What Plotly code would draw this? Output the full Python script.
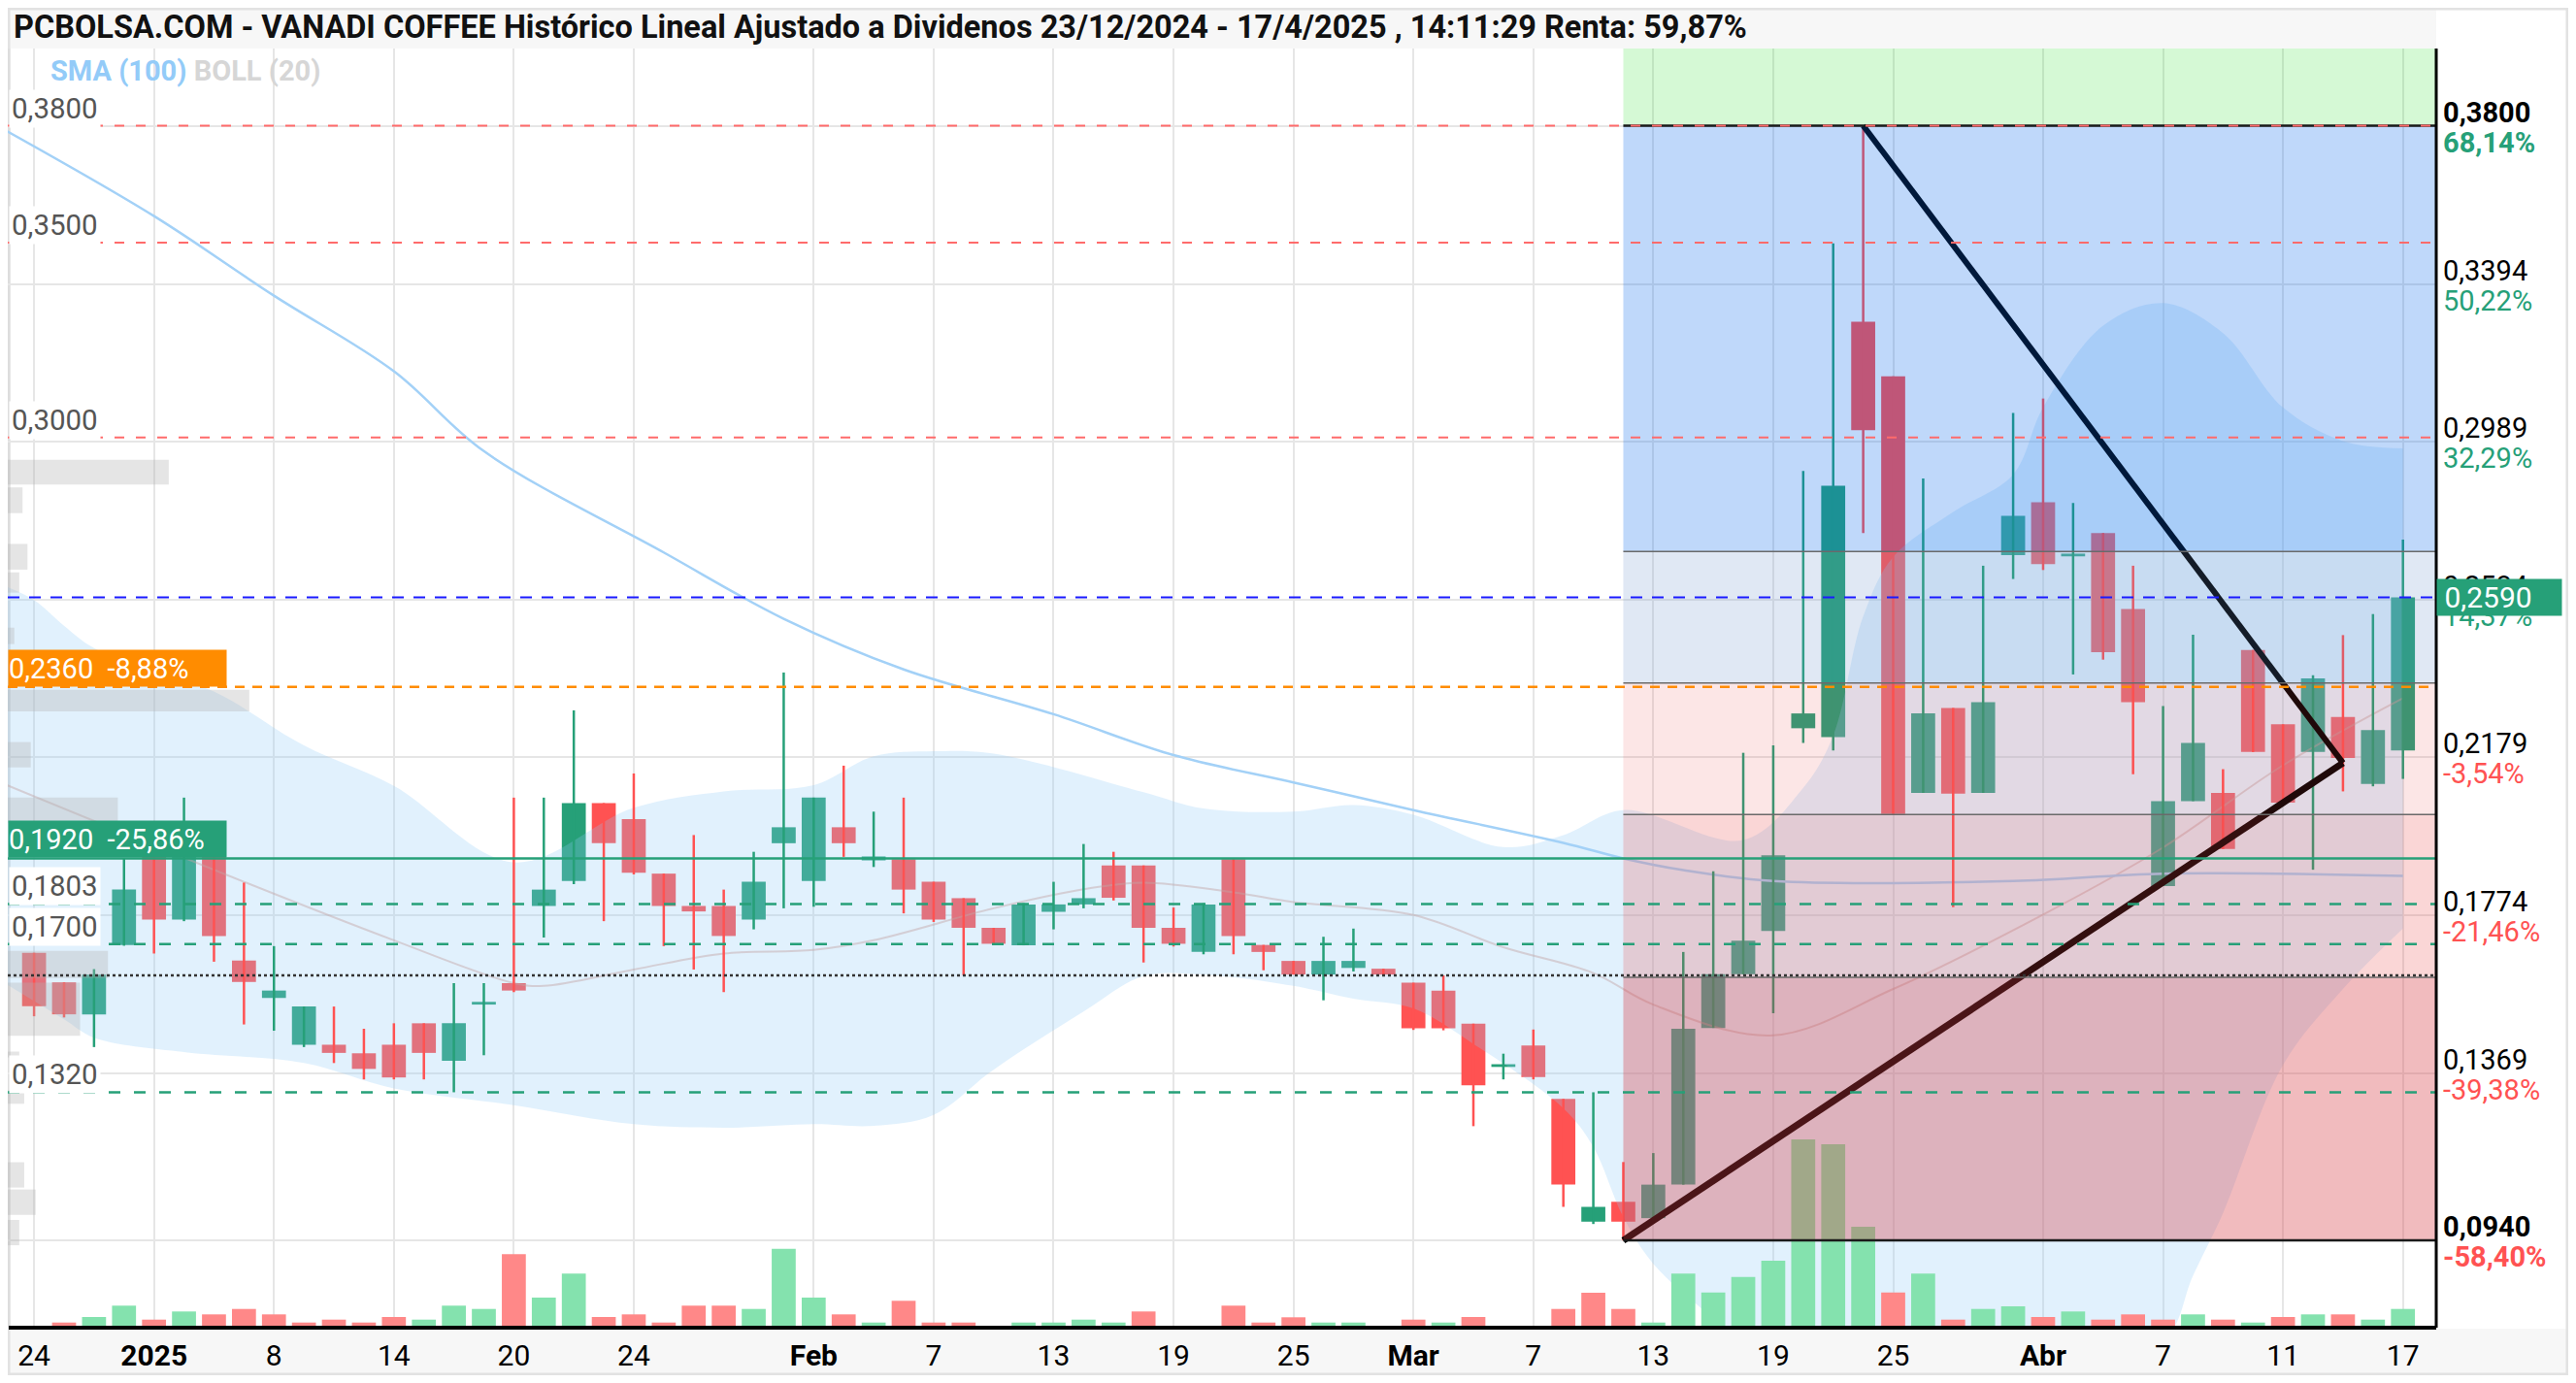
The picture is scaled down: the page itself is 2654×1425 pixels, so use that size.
import plotly.graph_objects as go

# ---------------- DATA ----------------
dates = ["2024-12-24", "2024-12-27", "2024-12-30", "2024-12-31",
         "2025-01-02", "2025-01-03", "2025-01-06", "2025-01-07", "2025-01-08", "2025-01-09", "2025-01-10",
         "2025-01-13", "2025-01-14", "2025-01-15", "2025-01-16", "2025-01-17", "2025-01-20", "2025-01-21",
         "2025-01-22", "2025-01-23", "2025-01-24", "2025-01-27", "2025-01-28", "2025-01-29", "2025-01-30",
         "2025-01-31", "2025-02-03", "2025-02-04", "2025-02-05", "2025-02-06", "2025-02-07", "2025-02-10",
         "2025-02-11", "2025-02-12", "2025-02-13", "2025-02-14", "2025-02-17", "2025-02-18", "2025-02-19",
         "2025-02-20", "2025-02-21", "2025-02-24", "2025-02-25", "2025-02-26", "2025-02-27", "2025-02-28",
         "2025-03-03", "2025-03-04", "2025-03-05", "2025-03-06", "2025-03-07", "2025-03-10", "2025-03-11",
         "2025-03-12", "2025-03-13", "2025-03-14", "2025-03-17", "2025-03-18", "2025-03-19", "2025-03-20",
         "2025-03-21", "2025-03-24", "2025-03-25", "2025-03-26", "2025-03-27", "2025-03-28", "2025-03-31",
         "2025-04-01", "2025-04-02", "2025-04-03", "2025-04-04", "2025-04-07", "2025-04-08", "2025-04-09",
         "2025-04-10", "2025-04-11", "2025-04-14", "2025-04-15", "2025-04-16", "2025-04-17"]

open_ = [0.1678, 0.1602, 0.1520, 0.1698, 0.1925, 0.1763, 0.1925, 0.1658, 0.1562, 0.1442,
         0.1442, 0.1420, 0.1442, 0.1497, 0.1401, 0.1545, 0.1600, 0.1798, 0.1862, 0.2062,
         0.2021, 0.1881, 0.1798, 0.1798, 0.1763, 0.1959, 0.1862, 0.2000, 0.1915, 0.1918,
         0.1860, 0.1818, 0.1742, 0.1697, 0.1783, 0.1802, 0.1902, 0.1902, 0.1742, 0.1680,
         0.1918, 0.1698, 0.1657, 0.1622, 0.1639, 0.1637, 0.1601, 0.1581, 0.1496, 0.1385,
         0.1440, 0.1303, 0.0988, 0.1039, 0.0997, 0.1083, 0.1485, 0.1623, 0.1734, 0.2254,
         0.2231, 0.3297, 0.3157, 0.2088, 0.2306, 0.2088, 0.2698, 0.2834, 0.2695, 0.2755,
         0.2560, 0.1849, 0.2067, 0.2088, 0.2455, 0.2264, 0.2193, 0.2283, 0.2111, 0.2197]
high = [0.1678, 0.1602, 0.1636, 0.1920, 0.1925, 0.2076, 0.1925, 0.1858, 0.1695, 0.1540,
        0.1540, 0.1483, 0.1497, 0.1497, 0.1600, 0.1600, 0.2076, 0.2076, 0.2300, 0.2062,
        0.2138, 0.1881, 0.1980, 0.1840, 0.1937, 0.2397, 0.2076, 0.2158, 0.2040, 0.2076,
        0.1860, 0.1818, 0.1742, 0.1805, 0.1860, 0.1957, 0.1937, 0.1902, 0.1794, 0.1805,
        0.1918, 0.1698, 0.1657, 0.1719, 0.1740, 0.1637, 0.1601, 0.1620, 0.1496, 0.1419,
        0.1481, 0.1303, 0.1320, 0.1141, 0.1164, 0.1680, 0.1887, 0.2191, 0.2210, 0.2914,
        0.3498, 0.3800, 0.3157, 0.2895, 0.2306, 0.2671, 0.3063, 0.3100, 0.2832, 0.2755,
        0.2671, 0.2311, 0.2494, 0.2149, 0.2455, 0.2264, 0.2390, 0.2493, 0.2547, 0.2738]
low = [0.1515, 0.1512, 0.1436, 0.1696, 0.1676, 0.1759, 0.1655, 0.1494, 0.1478, 0.1436,
       0.1395, 0.1353, 0.1353, 0.1353, 0.1320, 0.1415, 0.1577, 0.1717, 0.1854, 0.1759,
       0.1879, 0.1695, 0.1635, 0.1577, 0.1738, 0.1792, 0.1796, 0.1924, 0.1898, 0.1779,
       0.1757, 0.1620, 0.1699, 0.1697, 0.1738, 0.1792, 0.1812, 0.1653, 0.1694, 0.1674,
       0.1674, 0.1633, 0.1622, 0.1556, 0.1630, 0.1622, 0.1480, 0.1479, 0.1233, 0.1353,
       0.1353, 0.1026, 0.0982, 0.0940, 0.0997, 0.1083, 0.1485, 0.1623, 0.1523, 0.2216,
       0.2197, 0.2755, 0.2034, 0.2088, 0.1795, 0.2088, 0.2637, 0.2660, 0.2392, 0.2430,
       0.2136, 0.1849, 0.2067, 0.1944, 0.2193, 0.2063, 0.1891, 0.2092, 0.2105, 0.2124]
close = [0.1541, 0.1520, 0.1622, 0.1840, 0.1763, 0.1925, 0.1721, 0.1603, 0.1581, 0.1540,
         0.1421, 0.1380, 0.1358, 0.1421, 0.1497, 0.1548, 0.1581, 0.1840, 0.2062, 0.1959,
         0.1883, 0.1798, 0.1784, 0.1721, 0.1860, 0.2000, 0.2076, 0.1959, 0.1925, 0.1840,
         0.1763, 0.1742, 0.1701, 0.1802, 0.1802, 0.1818, 0.1819, 0.1742, 0.1701, 0.1802,
         0.1721, 0.1680, 0.1622, 0.1657, 0.1657, 0.1622, 0.1484, 0.1484, 0.1338, 0.1390,
         0.1359, 0.1083, 0.1026, 0.0988, 0.1083, 0.1483, 0.1623, 0.1709, 0.1928, 0.2292,
         0.2876, 0.3019, 0.2034, 0.2292, 0.2086, 0.2321, 0.2799, 0.2675, 0.2700, 0.2449,
         0.2321, 0.2067, 0.2216, 0.1944, 0.2193, 0.2063, 0.2382, 0.2178, 0.2249, 0.2590]

# volume (relative scale)
volume = [0, 5.3, 11, 22.7, 8.3, 16.7, 13.7, 19.3, 13.7, 5.3,
          8.3, 5.3, 11, 8.3, 22.7, 19.3, 75.7, 31, 55.7, 11,
          13.7, 5.3, 22.7, 22.7, 19.3, 81.3, 31, 13.7, 5.3, 27.7,
          5.3, 5.3, 0, 5.3, 5.3, 8.3, 5.3, 16.7, 0, 0,
          22.7, 5.3, 10.7, 5.3, 5.3, 0, 8.3, 5.3, 11, 0,
          0, 19.3, 36, 19.3, 5.3, 55.7, 36.3, 52.3, 69, 194,
          189, 104, 36.3, 55.7, 8.3, 19.3, 22, 11, 16.7, 8.3,
          13.7, 8.3, 13.7, 8.3, 5.3, 11, 13.7, 13.7, 8.3, 19.3]
vol_dir = ("rrggrgrrrr" "rrrgggrggr" "rrrrgggrgr" "rrrggggrrg"
           "rrrggrrgrg" "rrrrgggggg" "ggrgrggrgr" "rrgrgrgrgg")

# Bollinger (20): (position of date, value)
bb_up_pos = [0, 1, 2, 3, 7, 10, 13, 17, 21, 24, 27, 29, 31, 33, 38, 40, 43, 45, 47, 50, 52,
             54, 58, 60, 61, 62, 63, 65, 67, 68, 70, 72, 74, 76, 78, 80]
bb_up = [0.2620, 0.2583, 0.2517, 0.2460, 0.2348, 0.2210, 0.2106, 0.1910, 0.2050, 0.2092, 0.2108,
         0.2182, 0.2195, 0.2189, 0.2090, 0.2048, 0.2040, 0.2057, 0.2032, 0.1949, 0.1980,
         0.2044, 0.1967, 0.2101, 0.2235, 0.2541, 0.2694, 0.2809, 0.2905, 0.3077, 0.3287,
         0.3345, 0.3268, 0.3077, 0.2991, 0.2972]
bb_lo_pos = [0, 2, 3, 6, 10, 13, 17, 21, 24, 27, 29, 31, 33, 36, 38, 40, 43, 45, 47, 49, 52,
             53, 54, 55, 57, 60, 63, 67, 72, 73, 74, 76, 78, 80]
bb_lo = [0.1601, 0.1507, 0.1460, 0.1423, 0.1395, 0.1330, 0.1287, 0.1238, 0.1229, 0.1238, 0.1234,
         0.1262, 0.1378, 0.1527, 0.1618, 0.1622, 0.1593, 0.1560, 0.1535, 0.1444, 0.1279,
         0.1180, 0.1000, 0.0880, 0.0740, 0.0550, 0.0470, 0.0550, 0.0680, 0.0850, 0.1010,
         0.1390, 0.1585, 0.1740]
bb_mid_pos = [0, 8, 13, 17, 18, 21, 24, 27, 29, 33, 36, 38, 41, 43, 47, 50, 53, 55, 59, 63, 68,
              72, 76, 80]
bb_mid = [0.2111, 0.1860, 0.1710, 0.1600, 0.1593, 0.1635, 0.1676, 0.1685, 0.1710, 0.1792, 0.1841,
          0.1858, 0.1833, 0.1808, 0.1775, 0.1692, 0.1626, 0.1545, 0.1466, 0.1585, 0.1776,
          0.1948, 0.2159, 0.2331]
# SMA (100)
sma_pos = [0, 5, 9, 13, 16, 22, 26, 30, 35, 39, 43, 47, 52, 54, 56, 59, 67, 72, 80]
sma = [0.3790, 0.3568, 0.3364, 0.3170, 0.2965, 0.2705, 0.2535, 0.2405, 0.2290, 0.2185, 0.2115,
       0.2044, 0.1960, 0.1920, 0.1890, 0.1862, 0.1862, 0.1881, 0.1875]

# volume-by-price profile (left side)
vp_price = [0.2911, 0.2839, 0.2694, 0.2628, 0.2491, 0.2325, 0.2186, 0.2044, 0.1648, 0.1533,
            0.1417, 0.1308, 0.1108, 0.1038, 0.0960]
vp_volume = [98, 9, 12, 7, 4, 147, 14, 67, 61, 44, 7, 10, 10, 17, 7]
vp_band = [0.0064, 0.0066, 0.0066, 0.0052, 0.0042, 0.0055, 0.0065, 0.0065, 0.0070, 0.0136,
           0.0015, 0.0035, 0.0065, 0.0065, 0.0065]

# Fibonacci / axis levels (right side)
fib_levels = [0.3800, 0.3394, 0.2989, 0.2584, 0.2179, 0.1774, 0.1369, 0.0940]
fib_pct = ["68,14%", "50,22%", "32,29%", "14,37%", "-3,54%", "-21,46%", "-39,38%", "-58,40%"]
fib_ratios = [0.382, 0.5, 0.618, 0.764]
tri_end_date = "2025-04-15"
tri_end_price = 0.2165

# horizontal user lines
red_lines = [0.38, 0.35, 0.30]
green_dash_lines = [0.1803, 0.1700, 0.1320]
green_solid_line = 0.1920
orange_line = 0.2360
ref_line = 0.1620
box_levels = [0.2360, 0.1920]
box_pct = ["-8,88%", "-25,86%"]
plain_left_levels = [0.3800, 0.3500, 0.3000, 0.1803, 0.1700, 0.1320]

tick_dates = ["2024-12-24", "2025-01-02", "2025-01-08", "2025-01-14", "2025-01-20", "2025-01-24",
              "2025-02-03", "2025-02-07", "2025-02-13", "2025-02-19", "2025-02-25", "2025-03-03",
              "2025-03-07", "2025-03-13", "2025-03-19", "2025-03-25", "2025-04-01", "2025-04-07",
              "2025-04-11", "2025-04-17"]
tick_text = ["24", "<b>2025</b>", "8", "14", "20", "24", "<b>Feb</b>", "7", "13", "19", "25",
             "<b>Mar</b>", "7", "13", "19", "25", "<b>Abr</b>", "7", "11", "17"]

title_text = ("PCBOLSA.COM - VANADI COFFEE Histórico Lineal Ajustado a Dividenos "
              "23/12/2024 - 17/4/2025 , 14:11:29 Renta: 59,87%")

# ---------------- STYLE / LAYOUT ----------------
PAGE_W, PAGE_H = 2654, 1425
OFF = 8                       # default page body margin
W, H = PAGE_W - 2 * OFF, PAGE_H - 2 * OFF
PL, PT, PR, PB = 8, 50, 2510, 1368   # plot area in page pixels
ML, MT = PL - OFF, PT - OFF
MR, MB = W - (PR - OFF), H - (PB - OFF)
PW, PH = PR - PL, PB - PT
GREEN = "#26a078"
RED = "#ff5252"
FONT = "Roboto, Arial, sans-serif"


def px(v):
    return (v - PL) / PW


def py(v):
    return (PB - v) / PH


def fmt(v):
    return f"{v:.4f}".replace(".", ",")


pos = {d: i + 1 for i, d in enumerate(dates)}
x = [pos[d] for d in dates]
x_range = [0.123, 81.11]
y_range = [0.0716, 0.3998]

fig = go.Figure()

# Bollinger fill
fig.add_trace(go.Scatter(x=bb_up_pos, y=bb_up, mode="lines", line=dict(width=0, shape="spline"),
                         hoverinfo="skip"))
fig.add_trace(go.Scatter(x=bb_lo_pos, y=bb_lo, mode="lines", line=dict(width=0, shape="spline"),
                         fill="tonexty", fillcolor="rgba(144,202,249,0.27)", hoverinfo="skip"))
fig.add_trace(go.Scatter(x=bb_mid_pos, y=bb_mid, mode="lines",
                         line=dict(width=2, color="rgba(195,165,165,0.45)", shape="spline"),
                         hoverinfo="skip"))
fig.add_trace(go.Scatter(x=sma_pos, y=sma, mode="lines",
                         line=dict(width=2.5, color="#a3d1f7", shape="spline"), hoverinfo="skip"))

# volume profile
fig.add_trace(go.Bar(x=vp_volume, y=vp_price, width=vp_band, orientation="h", base=0,
                     xaxis="x3", yaxis="y", marker=dict(color="rgba(175,175,175,0.33)", line=dict(width=0)),
                     hoverinfo="skip"))

# volume bars
vcol = ["#84e2ae" if d == "g" else "#ff8888" for d in vol_dir]
fig.add_trace(go.Bar(x=x, y=volume, yaxis="y2", width=0.8,
                     marker=dict(color=vcol, line=dict(width=0)), hoverinfo="skip"))

# candles: wicks
for col, cond in ((GREEN, True), (RED, False)):
    wx, wy = [], []
    for xi, o, h_, l_, c in zip(x, open_, high, low, close):
        if (c >= o) == cond:
            wx += [xi, xi, None]
            wy += [l_, h_, None]
    fig.add_trace(go.Scatter(x=wx, y=wy, mode="lines", line=dict(color=col, width=2.5),
                             hoverinfo="skip"))

# candles: bodies
body_base = [min(o, c) for o, c in zip(open_, close)]
body_h = [max(abs(c - o), 0.0007) for o, c in zip(open_, close)]
body_col = [GREEN if c >= o else RED for o, c in zip(open_, close)]
fig.add_trace(go.Bar(x=x, y=body_h, base=body_base, width=0.8,
                     marker=dict(color=body_col, line=dict(width=0)), hoverinfo="skip"))

# triangle drawing (low -> end, high -> end)
fib_hi, fib_lo = max(high), min(low)
x_lo = x[low.index(fib_lo)]
x_hi = x[high.index(fib_hi)]
x_end = pos[tri_end_date]
fig.add_trace(go.Scatter(x=[x_hi, x_end], y=[fib_hi, tri_end_price], mode="lines",
                         line=dict(color="#000000", width=6), hoverinfo="skip"))
fig.add_trace(go.Scatter(x=[x_lo, x_end], y=[fib_lo, tri_end_price], mode="lines",
                         line=dict(color="#000000", width=7), hoverinfo="skip"))

shapes = []
# decorations (below)
shapes.append(dict(type="rect", xref="paper", yref="paper", x0=px(8), x1=px(2510), y0=py(50), y1=py(9),
                   fillcolor="#f7f7f7", line=dict(width=0), layer="below"))
shapes.append(dict(type="rect", xref="paper", yref="paper", x0=px(8), x1=px(2644), y0=py(1416), y1=py(1369),
                   fillcolor="#f7f7f7", line=dict(width=0), layer="below"))
shapes.append(dict(type="rect", xref="paper", yref="paper", x0=px(9), x1=px(2645), y0=py(1416), y1=py(9),
                   fillcolor="rgba(0,0,0,0)", line=dict(width=3, color="#e2e2e2"), layer="below"))
shapes.append(dict(type="line", xref="paper", yref="paper", x0=px(9), x1=px(9), y0=0, y1=1,
                   line=dict(width=3, color="#dddddd"), layer="below"))

# Fibonacci zones (semi-transparent overlay above the candles)
rng = fib_hi - fib_lo
retr = [fib_hi - r * rng for r in fib_ratios]
bounds = [y_range[1], fib_hi] + retr + [fib_lo]
zone_colors = ["rgba(0,220,0,0.165)", "rgba(0,99,235,0.25)", "rgba(100,140,200,0.2)",
               "rgba(230,70,70,0.135)", "rgba(230,70,70,0.22)", "rgba(215,60,70,0.35)"]
for (ya, yb), zc in zip(zip(bounds[:-1], bounds[1:]), zone_colors):
    shapes.append(dict(type="rect", xref="x", yref="y", x0=x_lo, x1=x_range[1], y0=yb, y1=ya,
                       fillcolor=zc, line=dict(width=0), layer="above"))
for r in retr:
    shapes.append(dict(type="line", xref="x", yref="y", x0=x_lo, x1=x_range[1], y0=r, y1=r,
                       line=dict(width=1.5, color="#6a6a6a"), layer="above"))
for v in (fib_hi, fib_lo):
    shapes.append(dict(type="line", xref="x", yref="y", x0=x_lo, x1=x_range[1], y0=v, y1=v,
                       line=dict(width=2.5, color="#1a1a1a"), layer="above"))

# user horizontal lines
for v in red_lines:
    shapes.append(dict(type="line", xref="paper", yref="y", x0=0, x1=1, y0=v, y1=v,
                       line=dict(width=2, color="#ff6b6b", dash="10px,12px"), layer="above"))
shapes.append(dict(type="line", xref="paper", yref="y", x0=0, x1=1, y0=close[-1], y1=close[-1],
                   line=dict(width=2, color="#1a1aff", dash="12px,10px"), layer="above"))
shapes.append(dict(type="line", xref="paper", yref="y", x0=0, x1=1, y0=orange_line, y1=orange_line,
                   line=dict(width=2.5, color="#ff8c00", dash="10px,8px"), layer="above"))
shapes.append(dict(type="line", xref="paper", yref="y", x0=0, x1=1, y0=green_solid_line, y1=green_solid_line,
                   line=dict(width=2.5, color=GREEN), layer="above"))
for v in green_dash_lines:
    shapes.append(dict(type="line", xref="paper", yref="y", x0=0, x1=1, y0=v, y1=v,
                       line=dict(width=2.5, color=GREEN, dash="12px,14px"), layer="above"))
shapes.append(dict(type="line", xref="paper", yref="y", x0=0, x1=1, y0=ref_line, y1=ref_line,
                   line=dict(width=2.5, color="#333333", dash="3px,3px"), layer="above"))

# axis lines
shapes.append(dict(type="line", xref="paper", yref="paper", x0=1, x1=1, y0=0, y1=1,
                   line=dict(width=3, color="#000000"), layer="above"))
shapes.append(dict(type="line", xref="paper", yref="paper", x0=px(9), x1=1, y0=0, y1=0,
                   line=dict(width=4, color="#000000"), layer="above"))

ann = []
ann.append(dict(xref="paper", yref="paper", x=px(12), y=py(28), xanchor="left", yanchor="middle",
                text=f"<b>{title_text}</b>", showarrow=False, font=dict(size=32.5, color="#111111", family=FONT)))
ann.append(dict(xref="paper", yref="paper", x=px(50), y=py(73), xanchor="left", yanchor="middle",
                text="<b><span style='color:#93cbf8'>SMA (100)</span> "
                     "<span style='color:#d6d6d6'>BOLL (20)</span></b>",
                showarrow=False, font=dict(size=29, family=FONT)))

# left price labels
for v in plain_left_levels:
    ann.append(dict(xref="paper", yref="y", x=px(9), y=v, xanchor="left", yanchor="bottom", yshift=-2,
                    text=fmt(v), showarrow=False, bgcolor="white", borderpad=2,
                    font=dict(size=29.5, color="#555555", family=FONT)))
for v, p, bc in zip(box_levels, box_pct, ["#ff8c00", GREEN]):
    ann.append(dict(xref="paper", yref="y", x=0, y=v, xanchor="left", yanchor="bottom",
                    text=f"{fmt(v)}\u00a0\u00a0{p}", showarrow=False, bgcolor=bc, borderpad=0,
                    width=224, height=37, align="left",
                    font=dict(size=29, color="white", family=FONT)))

# right axis labels
for i, (v, p) in enumerate(zip(fib_levels, fib_pct)):
    bold = i in (0, len(fib_levels) - 1)
    t1 = f"<b>{fmt(v)}</b>" if bold else fmt(v)
    t2 = f"<b>{p}</b>" if bold else p
    pc = GREEN if not p.startswith("-") else RED
    ann.append(dict(xref="paper", yref="y", x=1, xshift=5, y=v, yshift=14, xanchor="left", yanchor="middle",
                    text=t1, showarrow=False, font=dict(size=29, color="#000000", family=FONT)))
    ann.append(dict(xref="paper", yref="y", x=1, xshift=5, y=v, yshift=-17, xanchor="left", yanchor="middle",
                    text=t2, showarrow=False, font=dict(size=29, color=pc, family=FONT)))
# current price box
ann.append(dict(xref="paper", yref="y", x=1, xshift=0, y=close[-1], xanchor="left", yanchor="middle",
                text="\u00a0" + fmt(close[-1]), showarrow=False, bgcolor=GREEN, borderpad=0,
                width=128, height=37, align="left", font=dict(size=30, color="white", family=FONT)))

fig.update_layout(
    width=W, height=H, margin=dict(l=ML, r=MR, t=MT, b=MB, pad=0),
    paper_bgcolor="white", plot_bgcolor="white", showlegend=False, hovermode=False,
    barmode="overlay", font=dict(family=FONT),
    xaxis=dict(range=x_range, tickvals=[pos[d] for d in tick_dates], ticktext=tick_text,
               showgrid=True, gridcolor="#e6e6e6", gridwidth=2, zeroline=False, showline=False,
               ticks="", ticklabelstandoff=8, tickfont=dict(size=30, color="#000000", family=FONT)),
    yaxis=dict(range=y_range, tickvals=fib_levels, showticklabels=False, showgrid=True,
               gridcolor="#e6e6e6", gridwidth=2, zeroline=False, showline=False, side="right"),
    yaxis2=dict(range=[0, PH], overlaying="y", visible=False),
    xaxis3=dict(range=[0, 1478], overlaying="x", anchor="y", visible=False),
    shapes=shapes, annotations=ann,
)

fig.write_html("out.html")
